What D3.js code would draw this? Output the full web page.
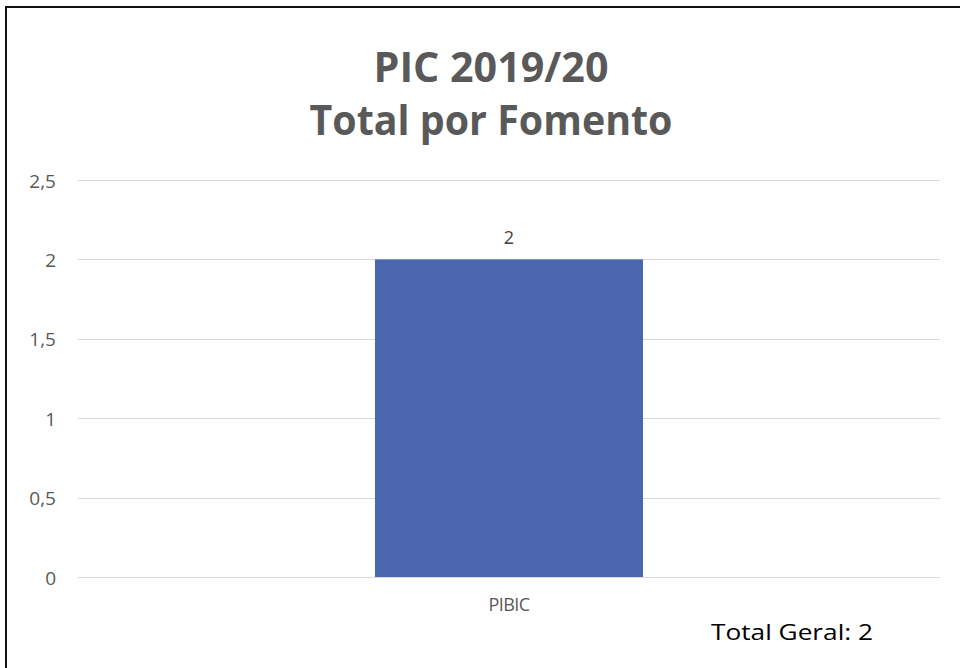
<!DOCTYPE html>
<html>
<head>
<meta charset="utf-8">
<script src="https://cdn.jsdelivr.net/npm/d3@7"></script>
<style>
  html, body { margin: 0; padding: 0; background: #fff; }
  svg { display: block; }
  text { font-family: "Open Sans", "Liberation Sans", sans-serif; }
</style>
</head>
<body>
<script>
const categories = ["PIBIC"];
const values = [2];
const yTicks = [0, 0.5, 1, 1.5, 2, 2.5];
const titleLines = ["PIC 2019/20", "Total por Fomento"];
const totalLabel = "Total Geral: 2";

const W = 960, H = 668;
const svg = d3.select("body").append("svg").attr("width", W).attr("height", H);
svg.append("rect").attr("width", W).attr("height", H).attr("fill", "#fff");

// frame (top and left visible)
svg.append("line").attr("x1", 5).attr("x2", W).attr("y1", 7).attr("y2", 7)
  .attr("stroke", "#111").attr("stroke-width", 2);
svg.append("line").attr("x1", 6).attr("x2", 6).attr("y1", 6).attr("y2", H)
  .attr("stroke", "#111").attr("stroke-width", 2);

const plot = { left: 78, right: 940, top: 180, bottom: 577 };

const x = d3.scaleBand().domain(categories).range([plot.left, plot.right]).padding(0.5256);
const y = d3.scaleLinear().domain([0, 2.5]).range([plot.bottom, plot.top]);

// gridlines
svg.append("g").selectAll("line").data(yTicks).join("line")
  .attr("x1", plot.left).attr("x2", plot.right)
  .attr("y1", d => Math.round(y(d)) + 0.5).attr("y2", d => Math.round(y(d)) + 0.5)
  .attr("stroke", "#d9d9d9").attr("stroke-width", 1);

// y axis labels
const fmt = d => String(d).replace(".", ",");
const yAxis = d3.axisLeft(y).tickValues(yTicks).tickFormat(fmt).tickSize(0).tickPadding(0);
const gy = svg.append("g").attr("transform", `translate(56,1)`).call(yAxis);
gy.select(".domain").remove();
gy.selectAll("text").attr("fill", "#595959").attr("font-size", 19)
  .attr("font-family", "Open Sans, Liberation Sans, sans-serif");

// bars
svg.append("g").selectAll("rect").data(values).join("rect")
  .attr("x", (d, i) => x(categories[i]))
  .attr("width", x.bandwidth())
  .attr("y", d => y(d))
  .attr("height", d => y(0) - y(d))
  .attr("fill", "#4a66ac");

// value labels
svg.append("g").selectAll("text").data(values).join("text")
  .attr("x", (d, i) => x(categories[i]) + x.bandwidth() / 2)
  .attr("y", d => y(d) - 22)
  .attr("dy", "0.35em")
  .attr("text-anchor", "middle")
  .attr("fill", "#404040").attr("font-size", 18)
  .text(d => d);

// x axis labels
const xAxis = d3.axisBottom(x).tickSize(0).tickPadding(0);
const gx = svg.append("g").attr("transform", `translate(0,${plot.bottom + 21})`).call(xAxis);
gx.select(".domain").remove();
gx.selectAll("text").attr("fill", "#595959").attr("font-size", 18)
  .attr("font-family", "Open Sans, Liberation Sans, sans-serif")
  .attr("letter-spacing", "-0.6px");

// title
const titleY = [82, 135];
const titleW = [235, 363];
svg.append("g").selectAll("text").data(titleLines).join("text")
  .attr("x", 491).attr("y", (d, i) => titleY[i])
  .attr("text-anchor", "middle")
  .attr("font-weight", "bold").attr("font-size", 41)
  .attr("fill", "#595959")
  .attr("textLength", (d, i) => titleW[i])
  .attr("lengthAdjust", "spacingAndGlyphs")
  .text(d => d);

// total label
svg.append("text").attr("x", 711).attr("y", 640)
  .attr("font-size", 22).attr("fill", "#000")
  .attr("textLength", 162).attr("lengthAdjust", "spacingAndGlyphs")
  .text(totalLabel);
</script>
</body>
</html>
